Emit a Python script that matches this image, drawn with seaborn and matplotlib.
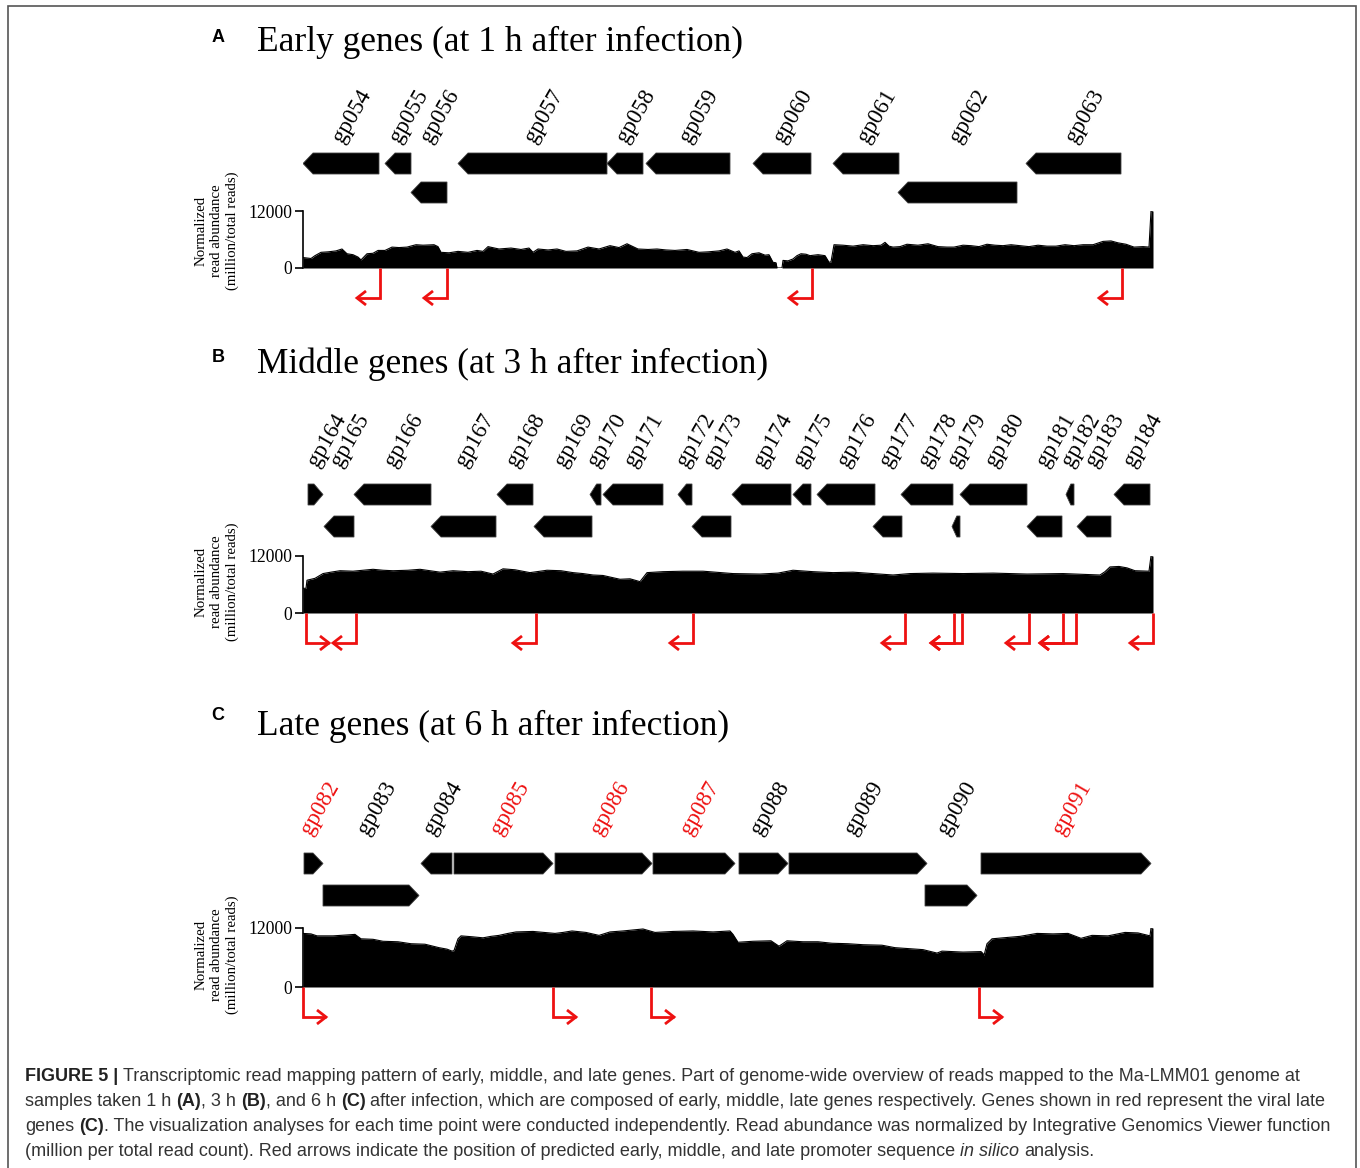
import matplotlib
matplotlib.use("Agg")
import matplotlib.pyplot as plt
import seaborn as sns
import pandas as pd
from matplotlib.patches import Polygon, Rectangle
from matplotlib import font_manager as fm

# ------------------------------------------------------------------ data
# positions are in track units (0..850 across the coverage track)
A_genes = ["gp054", "gp055", "gp056", "gp057", "gp058", "gp059", "gp060", "gp061", "gp062", "gp063"]
A_start = [0, 82, 108, 155, 304, 343, 450, 530, 595, 723]
A_end = [76, 108, 144, 304, 340, 427, 508, 596, 714, 818]
A_strand = ["-", "-", "-", "-", "-", "-", "-", "-", "-", "-"]
A_row = [0, 0, 1, 0, 0, 0, 0, 0, 1, 0]
A_red = []
A_prom_pos = [77, 144, 509, 819]
A_prom_dir = ["-", "-", "-", "-"]
# coverage read-outs: (position, normalized reads)
A_cov = [(0, 2200), (8, 2000), (12, 2600), (18, 3300), (25, 3400), (33, 3600), (39, 4000), (44, 3000),
         (50, 2800), (55, 2300), (58, 1700), (64, 3000), (70, 3100), (75, 3700), (82, 3700), (89, 4400),
         (96, 4300), (104, 4400), (113, 4900), (120, 4800), (131, 4900), (135, 4500), (138, 3300),
         (146, 3200), (155, 3500), (165, 3300), (174, 3700), (180, 3500), (185, 4500), (196, 4000),
         (208, 4200), (218, 3900), (226, 4200), (230, 3300), (235, 4000), (245, 3800), (254, 4000),
         (263, 3500), (274, 3600), (285, 4400), (296, 4000), (307, 4700), (316, 4300), (324, 5100),
         (330, 4500), (335, 4000), (345, 3900), (354, 4000), (363, 3800), (372, 3700), (384, 3900),
         (396, 3300), (405, 3400), (416, 3600), (424, 4000), (432, 3300), (436, 3600), (440, 2300),
         (444, 2200), (449, 3000), (456, 3200), (462, 2700), (466, 2800), (470, 1200), (473, 1100),
         (474, 0), (479, 0), (480, 1600), (485, 1500), (490, 1900), (494, 2600), (498, 3000),
         (503, 2900), (507, 2600), (515, 2800), (522, 2600), (526, 1200), (528, 1300), (531, 4900),
         (540, 4800), (550, 4600), (560, 4900), (570, 4700), (578, 4800), (582, 5400), (586, 4600),
         (590, 4400), (597, 4500), (604, 5000), (615, 4800), (625, 5100), (635, 4500), (644, 4400),
         (651, 4400), (660, 4800), (668, 4700), (676, 4500), (684, 5000), (692, 4800), (700, 4700),
         (708, 4900), (717, 4700), (726, 4500), (735, 4800), (744, 4600), (753, 4600), (762, 4900),
         (771, 4700), (780, 4900), (790, 4900), (800, 5600), (808, 5700), (815, 5300), (823, 5000),
         (831, 4400), (840, 4500), (846, 4400), (848, 12000), (850, 12000)]

B_genes = ["gp164", "gp165", "gp166", "gp167", "gp168", "gp169", "gp170", "gp171", "gp172", "gp173",
           "gp174", "gp175", "gp176", "gp177", "gp178", "gp179", "gp180", "gp181", "gp182", "gp183", "gp184"]
B_start = [5, 21, 51, 128, 194, 231, 287, 300, 375, 389, 429, 490, 514, 570, 598, 649, 657, 724, 763, 774, 811]
B_end = [20, 51, 128, 193, 230, 289, 298, 360, 389, 428, 488, 508, 572, 599, 650, 657, 724, 759, 771, 808, 847]
B_strand = ["+"] + ["-"] * 20
B_row = [0, 1, 0, 1, 0, 1, 0, 0, 0, 1, 0, 0, 0, 1, 0, 1, 0, 1, 0, 1, 0]
B_red = []
B_prom_pos = [3, 53, 233, 390, 602, 651, 659, 726, 760, 773, 850]
B_prom_dir = ["+", "-", "-", "-", "-", "-", "-", "-", "-", "-", "-"]
B_cov = [(0, 5200), (3, 5200), (4, 6900), (12, 7300), (20, 8300), (28, 8600), (37, 8900), (50, 8800),
         (60, 9000), (70, 9200), (80, 9000), (90, 8900), (105, 9000), (117, 9200), (127, 8900),
         (137, 8600), (150, 8900), (165, 8700), (178, 8800), (190, 8200), (200, 9300), (212, 9100),
         (227, 8500), (244, 9000), (258, 8900), (270, 8500), (280, 8300), (290, 8000), (300, 7900),
         (317, 7100), (327, 7200), (337, 6600), (344, 8500), (360, 8700), (380, 8800), (400, 8800),
         (430, 8300), (457, 8200), (475, 8400), (490, 9000), (510, 8700), (530, 8500), (550, 8600),
         (570, 8300), (590, 8000), (607, 8300), (630, 8400), (660, 8300), (690, 8400), (724, 8200),
         (760, 8300), (797, 8000), (802, 8700), (807, 9700), (816, 9800), (824, 9500), (832, 8900),
         (846, 8800), (848, 12000), (850, 12000)]

C_genes = ["gp082", "gp083", "gp084", "gp085", "gp086", "gp087", "gp088", "gp089", "gp090", "gp091"]
C_start = [1, 20, 118, 151, 252, 350, 436, 486, 622, 678]
C_end = [20, 116, 149, 250, 349, 432, 485, 624, 674, 848]
C_strand = ["+", "+", "-", "+", "+", "+", "+", "+", "+", "+"]
C_row = [0, 1, 0, 0, 0, 0, 0, 0, 1, 0]
C_red = ["gp082", "gp085", "gp086", "gp087", "gp091"]
C_prom_pos = [0, 250, 348, 676]
C_prom_dir = ["+", "+", "+", "+"]
C_cov = [(0, 10900), (8, 10800), (14, 10400), (30, 10400), (45, 10600), (52, 10700), (58, 9800),
         (70, 9700), (80, 9300), (95, 9200), (108, 8800), (122, 8700), (136, 8000), (144, 7700),
         (149, 7300), (151, 7400), (155, 9800), (158, 10400), (170, 10200), (180, 10000), (188, 10300),
         (196, 10500), (205, 10900), (213, 11200), (230, 11300), (252, 10900), (260, 11100),
         (269, 11400), (283, 11100), (296, 10500), (307, 11200), (320, 11400), (340, 11800),
         (352, 11100), (370, 11300), (390, 11400), (410, 11200), (427, 11400), (430, 10700),
         (435, 9100), (450, 9300), (468, 9400), (476, 8300), (484, 9400), (500, 9200), (515, 9200),
         (529, 8900), (545, 8800), (560, 8600), (579, 8500), (592, 8000), (606, 7800), (620, 7600),
         (634, 6900), (639, 7300), (660, 7100), (678, 7200), (680, 6800), (681, 6400), (684, 8800),
         (689, 9800), (700, 10000), (717, 10300), (734, 10900), (750, 10800), (765, 10900),
         (778, 9900), (789, 10500), (805, 10400), (822, 11100), (835, 11000), (845, 10500),
         (847, 10400), (848, 12000), (850, 12000)]

Y_MAX = 12000
Y_TICKS = [0, 12000]
Y_LABEL = "Normalized\nread abundance\n(million/total reads)"

# ------------------------------------------------------------------ style
sns.set_theme(style="white")
plt.rcParams["font.family"] = ["Liberation Serif", "DejaVu Serif"]
plt.rcParams["text.color"] = "black"
plt.rcParams["ytick.color"] = "black"
plt.rcParams["xtick.color"] = "black"

W, H = 1360, 1168
fig = plt.figure(figsize=(W / 100, H / 100), dpi=100)


def fx(px):
    return px / W


def fy(py):
    return 1 - py / H


TX0, TW = 303, 850
GENE_H = 21
TIP = 10
ARROW_L = 23
RED = "#ee1111"

panels = [
    dict(letter="A", title="Early genes (at 1 h after infection)", letter_y=38, title_base=51,
         genes=A_genes, start=A_start, end=A_end, strand=A_strand, row=A_row, red=A_red,
         prom=A_prom_pos, pdir=A_prom_dir, cov=A_cov, label_dx=2,
         top=60, row_tops=(153, 182), label_y=144, cov_top=211, cov_bot=268, arrow_y=298,
         bottom=312, ylab_y=231),
    dict(letter="B", title="Middle genes (at 3 h after infection)", letter_y=358, title_base=373,
         genes=B_genes, start=B_start, end=B_end, strand=B_strand, row=B_row, red=B_red,
         prom=B_prom_pos, pdir=B_prom_dir, cov=B_cov, label_dx=2,
         top=385, row_tops=(484, 516), label_y=468, cov_top=556, cov_bot=613, arrow_y=643,
         bottom=657, ylab_y=582),
    dict(letter="C", title="Late genes (at 6 h after infection)", letter_y=715, title_base=735,
         genes=C_genes, start=C_start, end=C_end, strand=C_strand, row=C_row, red=C_red,
         prom=C_prom_pos, pdir=C_prom_dir, cov=C_cov, label_dx=-3,
         top=745, row_tops=(853, 885), label_y=835, cov_top=928, cov_bot=987, arrow_y=1017,
         bottom=1031, ylab_y=955),
]


def arrow_tips(pos, dirs):
    tips = []
    for p, d in zip(pos, dirs):
        if d == "-":
            grp = [q for q, e in zip(pos, dirs) if e == "-" and 0 <= p - q <= 15]
            tips.append(min(grp) - ARROW_L)
        else:
            grp = [q for q, e in zip(pos, dirs) if e == "+" and 0 <= q - p <= 15]
            tips.append(max(grp) + ARROW_L)
    return tips


for P in panels:
    # ---- coverage track
    axc = fig.add_axes([fx(TX0), fy(P["cov_bot"]), TW / W, (P["cov_bot"] - P["cov_top"]) / H])
    df = pd.DataFrame(P["cov"], columns=["pos", "val"])
    axc.fill_between(df["pos"], df["val"], color="black", lw=0)
    sns.lineplot(data=df, x="pos", y="val", color="black", lw=0.8, ax=axc)
    axc.set_xlim(0, TW)
    axc.set_ylim(0, Y_MAX)
    axc.set_facecolor("none")
    for s in ["top", "right", "bottom"]:
        axc.spines[s].set_visible(False)
    axc.spines["left"].set_linewidth(1.2)
    axc.spines["left"].set_color("black")
    axc.set_xticks([])
    axc.set_yticks(Y_TICKS)
    axc.set_yticklabels([str(t) for t in Y_TICKS])
    axc.tick_params(axis="y", direction="out", length=6, width=1.2, pad=1.5, labelsize=12.7,
                    left=True, colors="black")
    axc.set_xlabel("")
    axc.set_ylabel("")
    fig.text(fx(217), fy(P["ylab_y"]), Y_LABEL, rotation=90, ha="center", va="center",
             fontsize=10.7, linespacing=1.25, multialignment="center")

    # ---- annotation axes (pixel-like y)
    ax = fig.add_axes([fx(TX0), fy(P["bottom"]), TW / W, (P["bottom"] - P["top"]) / H])
    ax.set_xlim(0, TW)
    ax.set_ylim(P["bottom"], P["top"])
    ax.axis("off")

    for name, s, e, st, r in zip(P["genes"], P["start"], P["end"], P["strand"], P["row"]):
        y0 = P["row_tops"][r]
        y1 = y0 + GENE_H
        ym = (y0 + y1) / 2
        tip = min(TIP, 0.6 * (e - s))
        if st == "-":
            pts = [(s, ym), (s + tip, y0), (e, y0), (e, y1), (s + tip, y1)]
        else:
            pts = [(s, y0), (e - tip, y0), (e, ym), (e - tip, y1), (s, y1)]
        ax.add_patch(Polygon(pts, closed=True, facecolor="black", edgecolor="#444444", lw=0.6))
        c = (s + e) / 2
        ax.text(c + P["label_dx"], P["label_y"], name, rotation=60, rotation_mode="anchor",
                ha="left", va="baseline", fontsize=16.5,
                color=RED if name in P["red"] else "black")

    tips = arrow_tips(P["prom"], P["pdir"])
    for p, d, t in zip(P["prom"], P["pdir"], tips):
        ya = P["arrow_y"]
        ax.plot([p, p, t], [P["cov_bot"], ya, ya], color=RED, lw=2.0,
                solid_joinstyle="miter", solid_capstyle="butt", clip_on=False)
        hl = 9 if d == "-" else -9
        ax.plot([t + hl, t, t + hl], [ya - 7, ya, ya + 7], color=RED, lw=2.0,
                solid_joinstyle="miter", solid_capstyle="butt", clip_on=False)

    # ---- titles
    fig.text(fx(218), fy(P["letter_y"]), P["letter"], ha="center", va="center",
             fontsize=13, fontweight="bold", family=["Liberation Sans", "DejaVu Sans"])
    fig.text(fx(257), fy(P["title_base"]), P["title"], ha="left", va="baseline", fontsize=25.5)

# ------------------------------------------------------------------ border
fig.add_artist(Rectangle((fx(8), fy(1200)), (1356 - 8) / W, (1200 - 6) / H,
                         transform=fig.transFigure, fill=False, edgecolor="#555555", lw=1.2))

# ------------------------------------------------------------------ caption


def has_font(name):
    try:
        fm.findfont(fm.FontProperties(family=name), fallback_to_default=False)
        return True
    except Exception:
        return False


cap_family = ["Liberation Sans Narrow"] if has_font("Liberation Sans Narrow") else ["Liberation Sans"]
CAP_COLOR = "#333333"

caption = [
    [("FIGURE 5 |", "b"), (" Transcriptomic read mapping pattern of early, middle, and late genes. Part of "
                           "genome-wide overview of reads mapped to the Ma-LMM01 genome at", "n")],
    [("samples taken 1 h ", "n"), ("(A)", "b"), (", 3 h ", "n"), ("(B)", "b"), (", and 6 h ", "n"),
     ("(C)", "b"), (" after infection, which are composed of early, middle, late genes respectively. "
                    "Genes shown in red represent the viral late", "n")],
    [("genes ", "n"), ("(C)", "b"), (". The visualization analyses for each time point were conducted "
                                     "independently. Read abundance was normalized by Integrative Genomics "
                                     "Viewer function", "n")],
    [("(million per total read count). Red arrows indicate the position of predicted early, middle, and "
      "late promoter sequence ", "n"), ("in silico", "i"), (" analysis.", "n")],
]
renderer = fig.canvas.get_renderer()


def kw_for(style, fs):
    kw = dict(fontsize=fs, family=cap_family, color=CAP_COLOR if style != "b" else "#222222",
              va="baseline", ha="left")
    if style == "b":
        kw["fontweight"] = "bold"
    if style == "i":
        kw["fontstyle"] = "italic"
    return kw


def text_w(s, style, fs):
    t = fig.text(0, 0, s, **kw_for(style, fs))
    w = t.get_window_extent(renderer).width
    t.remove()
    return w


def seg_width(s, style, fs):
    core = s.strip(" ")
    sp = text_w("x x", style, fs) - text_w("xx", style, fs)
    n_sp = len(s) - len(core)
    return (text_w(core, style, fs) if core else 0) + n_sp * sp


def draw_line(segs, x0, yb, fs):
    x = x0
    for s, style in segs:
        lead = len(s) - len(s.lstrip(" "))
        sp = text_w("x x", style, fs) - text_w("xx", style, fs)
        core = s.strip(" ")
        if core:
            fig.text(fx(x + lead * sp), fy(yb), core, **kw_for(style, fs))
        x += seg_width(s, style, fs)


fs0 = 12.5
w0 = sum(seg_width(s, st, fs0) for s, st in caption[0])
cap_fs = fs0 * (1306 - 25) / w0
for i, line in enumerate(caption):
    draw_line(line, 25, 1081 + 25 * i, cap_fs)

fig.savefig("out.png", dpi=100)
